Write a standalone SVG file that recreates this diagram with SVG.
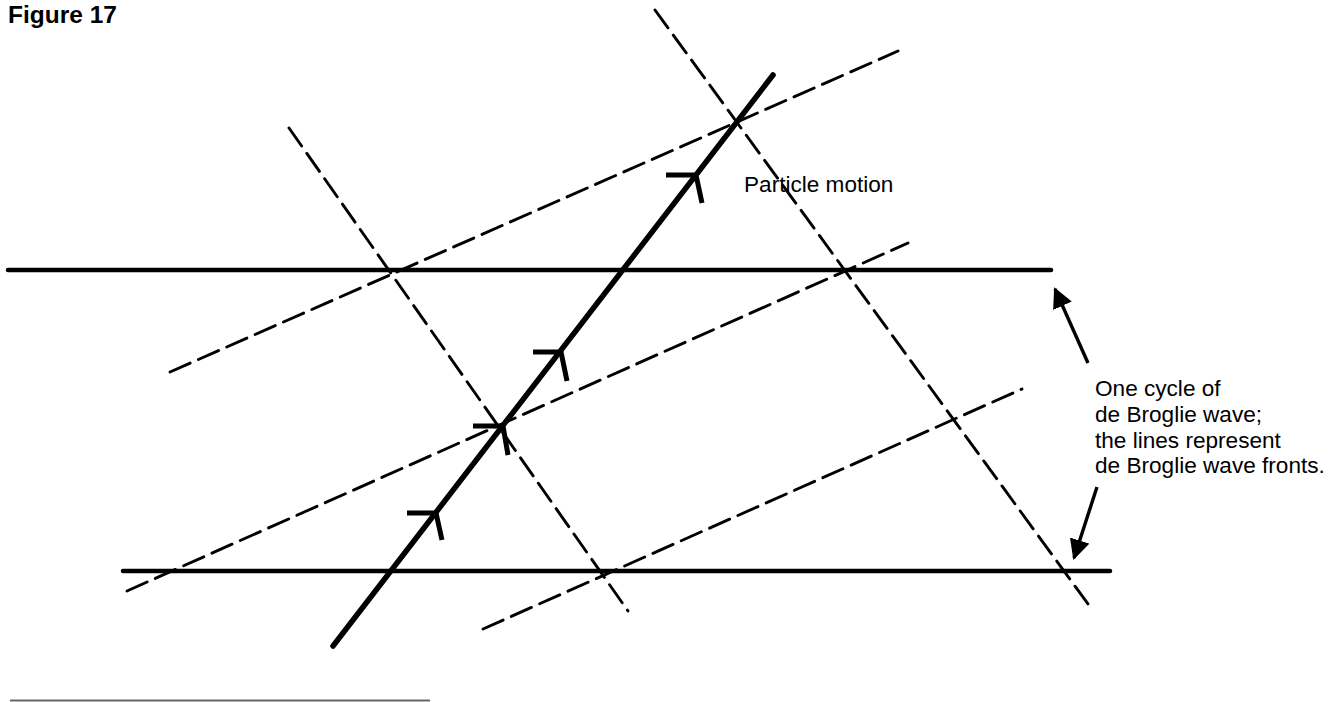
<svg xmlns="http://www.w3.org/2000/svg" width="1333" height="702" viewBox="0 0 1333 702">
<style>
.dash{stroke:#000;stroke-width:2.9;fill:none;stroke-dasharray:22 9;stroke-linecap:round}
.solid{stroke:#000;stroke-width:4.5;fill:none;stroke-linecap:round}
.path{stroke:#000;stroke-width:5.5;fill:none;stroke-linecap:round}
.barb{stroke:#000;stroke-width:5;fill:none;stroke-linecap:butt;stroke-linejoin:miter}
.ptr{stroke:#000;stroke-width:3.4;fill:none}
text{font-family:"Liberation Sans",Arial,Helvetica,sans-serif;fill:#000}
.lbl{font-size:22.6px}
</style>
<defs>
<marker id="ah" viewBox="0 0 10 10" refX="9" refY="5" markerWidth="6" markerHeight="6" markerUnits="strokeWidth" orient="auto">
<path d="M0,0 L10,5 L0,10 z" fill="#000"/>
</marker>
</defs>
<rect width="1333" height="702" fill="#fff"/>
<text x="8" y="23" font-size="24.5" font-weight="bold">Figure 17</text>
<g id="wavefronts">
<line class="solid" x1="8" y1="270" x2="1051" y2="270"/>
<line class="solid" x1="123" y1="571" x2="1110" y2="571"/>
</g>
<g id="dashed-lines">
<line class="dash" x1="170" y1="372" x2="898" y2="51"/>
<line class="dash" x1="127" y1="591" x2="908" y2="243"/>
<line class="dash" x1="483" y1="629" x2="1022" y2="389"/>
<line class="dash" x1="289" y1="128" x2="628" y2="611"/>
<line class="dash" x1="655" y1="10" x2="1088" y2="604"/>
</g>
<g id="particle">
<line class="path" x1="333" y1="646" x2="773" y2="75"/>
<path class="barb" d="M407,513 H436 L442,540"/>
<path class="barb" d="M473,426 H503 L508,455"/>
<path class="barb" d="M533,352 H561 L567,381"/>
<path class="barb" d="M666,175 H696 L702,203"/>
</g>
<g id="label-particle">
<text class="lbl" x="744" y="192" font-size="23">Particle motion</text>
</g>
<g id="connectors">
<line class="ptr" x1="1088" y1="363" x2="1055" y2="289" marker-end="url(#ah)"/>
<line class="ptr" x1="1097" y1="487" x2="1074" y2="558" marker-end="url(#ah)"/>
</g>
<g id="label-cycle">
<text class="lbl" x="1095" y="396">One cycle of</text>
<text class="lbl" x="1095" y="422">de Broglie wave;</text>
<text class="lbl" x="1095" y="448">the lines represent</text>
<text class="lbl" x="1095" y="473">de Broglie wave fronts.</text>
</g>
<line x1="10" y1="700.5" x2="430" y2="700.5" stroke="#666" stroke-width="2"/>
</svg>
